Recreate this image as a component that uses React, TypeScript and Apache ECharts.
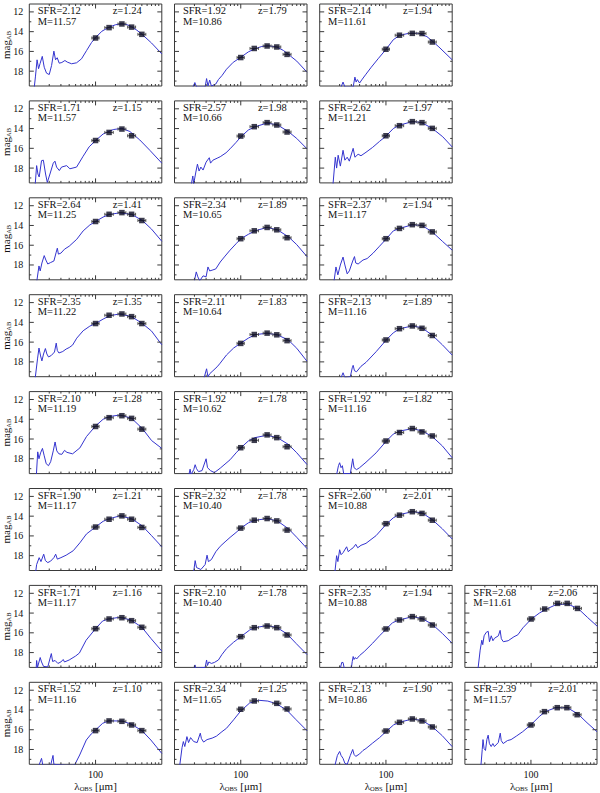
import React, { useEffect, useRef } from 'react';
import * as echarts from 'echarts';

// Herschel bands (observed wavelength, micron) and horizontal error-bar extents
const bandLambda = [100, 160, 250, 350, 500];
const bandLo = [88, 138, 218, 305, 436];
const bandHi = [113, 185, 287, 402, 574];

// axis ticks
const xMajorTicks = [100];
const xMinorTicks = [20, 30, 40, 50, 60, 70, 80, 90, 200, 300, 400, 500, 600, 700, 800, 900];
const yMajorTicks = [12, 14, 16, 18];
const yMinorTicks = [13, 15, 17, 19];

// panel layout (row, column)
const panelRow = [0, 0, 0, 1, 1, 1, 2, 2, 2, 3, 3, 3, 4, 4, 4, 5, 5, 5, 6, 6, 6, 6, 7, 7, 7, 7];
const panelCol = [0, 1, 2, 0, 1, 2, 0, 1, 2, 0, 1, 2, 0, 1, 2, 0, 1, 2, 0, 1, 2, 3, 0, 1, 2, 3];

const panelSFR = ['2.12', '1.92', '2.14', '1.71', '2.57', '2.62', '2.64', '2.34', '2.37', '2.35', '2.11', '2.13', '2.10', '1.92', '1.92', '1.90', '2.32', '2.60', '1.71', '2.10', '2.35', '2.68', '1.52', '2.34', '2.13', '2.39'];
const panelZ = ['1.24', '1.79', '1.94', '1.15', '1.98', '1.97', '1.41', '1.89', '1.94', '1.35', '1.83', '1.89', '1.28', '1.78', '1.82', '1.21', '1.78', '2.01', '1.16', '1.78', '1.94', '2.06', '1.10', '1.25', '1.90', '2.01'];
const panelM = ['11.57', '10.86', '11.61', '11.57', '10.66', '11.21', '11.25', '10.65', '11.17', '11.22', '10.64', '11.16', '11.19', '10.62', '11.16', '11.17', '10.40', '10.88', '11.17', '10.40', '10.88', '11.61', '11.16', '11.65', '10.86', '11.57'];

// observed magnitudes at bandLambda (null = not plotted)
const obsMags: (number | null)[][] = [
  [14.64, 13.59, 13.22, 13.54, 14.27],
  [16.62, 15.7, 15.45, 15.55, 16.3],
  [15.78, 14.36, 14.17, 14.19, 15.05],
  [15.21, 14.39, 14.05, 14.73, null],
  [14.76, 13.81, 13.4, 13.64, 14.35],
  [14.73, 13.71, 13.3, 13.4, 13.98],
  [13.6, 12.87, 12.7, 12.87, 13.5],
  [15.34, 14.54, 14.2, 14.44, 15.24],
  [15.34, 14.3, 13.92, 13.99, 14.65],
  [14.12, 13.28, 13.15, 13.42, 14.12],
  [16.13, 15.23, 15.09, 15.26, 15.85],
  [15.78, 14.64, 14.36, 14.6, 15.33],
  [14.73, 13.84, 13.64, 13.91, 15.0],
  [16.88, 16.13, 15.58, 15.86, 16.78],
  [16.2, 15.34, 14.94, 15.28, 15.69],
  [15.1, 14.31, 13.97, 14.31, 15.14],
  [15.21, 14.41, 14.24, 14.48, 15.41],
  [14.76, 13.9, 13.55, 13.72, 14.41],
  [15.58, 14.6, 14.47, 14.77, 15.44],
  [16.39, 15.48, 15.31, 15.48, 16.22],
  [15.61, 14.7, 14.36, 14.6, 15.21],
  [14.6, 13.59, 13.02, 13.02, 13.53],
  [16.09, 15.11, 15.15, 15.52, 16.09],
  [13.93, 13.09, null, 13.33, 13.9],
  [16.13, 15.25, 14.91, 15.11, 15.72],
  [15.52, 14.17, 13.77, 13.77, 14.48],
];

// best-fit SED curves [lambda_obs (micron), mag_AB]
const sed11 = [[11.9,19.6],[12.4,18.5],[13.1,16.85],[13.8,17.75],[14.5,17.25],[15.7,16.5],[16.8,17.6],[18.2,18.2],[20,18.34],[21.7,17.42],[23.5,15.97],[24.9,16.85],[26.4,16.64],[28.3,17.19],[31,17.12],[34.5,16.92],[37.4,17.08],[43.5,17.25],[51.7,17.15],[61.4,16.75],[73.4,15.9],[87,15.1],[100,14.6],[125,13.95],[160,13.55],[200,13.3],[250,13.2],[300,13.3],[350,13.5],[420,13.85],[500,14.25],[700,15.15],[1000,16.25]];
const sed12 = [[19,19.6],[20.3,19.15],[21.5,19.6],[29,19.6],[30.5,18.75],[32,19.5],[34,18.9],[36,19.5],[42,19.3],[46,18.85],[52,18.45],[61,17.8],[77,17.1],[100,16.6],[130,16.05],[165,15.72],[208,15.5],[262,15.43],[350,15.55],[440,15.9],[524,16.3],[700,16.98],[1000,18.1]];
const sed13 = [[21,19.6],[22.5,19.1],[24,19.6],[32,19.6],[34,18.6],[35.5,19.1],[37,18.85],[40,19.2],[44,18.8],[50,18.3],[60,17.6],[76,16.75],[100,15.8],[129,14.82],[160,14.38],[220,14.17],[310,14.17],[415,14.5],[500,14.95],[630,15.55],[1000,16.85]];
const sed21 = [[12.3,19.6],[12.9,17.75],[13.5,18.6],[14.1,18.9],[15.3,17.25],[16.3,17.2],[17.6,18.6],[18.7,19.45],[20.5,18.6],[23,17.5],[24.4,17.3],[25.8,17.9],[28.4,18.25],[30.7,17.9],[36.6,17.75],[41,18.07],[51.7,17.9],[65,16.8],[80,15.85],[100,15.22],[130,14.55],[185,14.1],[250,13.98],[330,14.3],[465,15.15],[660,16.2],[1000,17.5]];
const sed22 = [[18,19.6],[18.9,18.8],[19.5,19.6],[21,18.4],[22.2,17.6],[23.5,18.3],[25,17.9],[27,18.2],[30,17.4],[33.5,16.95],[35,17.5],[38,17.2],[44,17.0],[49,16.85],[60,16.45],[69,16.05],[85,15.4],[100,14.85],[130,14.15],[164,13.82],[248,13.45],[357,13.62],[525,14.32],[700,15.0],[1000,16.05]];
const sed23 = [[15.9,19.6],[17.2,16.9],[18,18.0],[19,16.7],[20.5,17.8],[22.5,16.2],[24,17.2],[26,16.9],[28,17.3],[32,16.0],[34,16.9],[38,16.6],[42,16.75],[50,16.4],[63,15.9],[80,15.3],[100,14.77],[129,14.0],[160,13.65],[250,13.3],[340,13.37],[500,13.98],[720,14.83],[1000,15.86]];
const sed31 = [[13,19.6],[14,18.1],[14.6,18.6],[15.5,17.8],[16.8,17.05],[17.8,17.5],[19,17.9],[21,17.75],[23.5,17.6],[25.5,16.7],[26.5,16.3],[27.5,16.9],[30,16.8],[34,16.4],[40,16.1],[52,15.4],[65,14.55],[82,13.95],[100,13.6],[130,13.15],[164,12.88],[232,12.72],[350,12.88],[510,13.5],[700,14.37],[1000,15.6]];
const sed32 = [[20,19.6],[21.3,18.7],[22.5,19.2],[24,19.6],[27,19.1],[30,19.2],[32,18.2],[34,18.6],[38,18.5],[42,18.4],[49,17.7],[58,17.1],[69,16.5],[85,15.85],[100,15.35],[130,14.9],[164,14.55],[248,14.2],[357,14.44],[525,15.15],[700,15.94],[1000,17.16]];
const sed33 = [[16.5,19.6],[17.6,18.2],[18.8,19.0],[20.5,18.0],[22.5,17.2],[24,18.0],[26,18.9],[28,18.6],[31.5,17.6],[33.5,17.15],[35,17.8],[38,17.9],[45,17.5],[52,17.35],[64,16.8],[80,16.1],[100,15.4],[129,14.55],[160,14.3],[250,13.93],[350,14.0],[500,14.65],[710,15.6],[1000,16.5]];
const sed41 = [[12.3,19.6],[13.3,17.7],[14,16.6],[14.8,17.4],[15.5,17.9],[16.4,17.2],[17.5,16.65],[18.4,17.2],[19.5,17.5],[21.5,17.35],[24,17.0],[25.5,16.1],[26.5,16.85],[28,17.1],[32,16.95],[36,16.7],[40,16.55],[45,16.3],[52,15.6],[65,14.85],[82,14.38],[100,14.12],[130,13.67],[164,13.32],[232,13.15],[350,13.42],[510,14.12],[700,14.88],[1000,16.27]];
const sed42 = [[28,19.6],[30.5,18.7],[32,19.5],[34,19.2],[38,18.9],[44,18.5],[48,18.2],[61,17.3],[78,16.6],[100,16.1],[130,15.6],[164,15.25],[248,15.1],[357,15.26],[525,15.8],[700,16.62],[1000,17.94]];
const sed43 = [[21,19.6],[22.5,19.1],[24,19.6],[29,19.5],[31,18.6],[32,18.35],[33.5,18.9],[36,19.0],[42,18.45],[50,18.05],[71,16.97],[100,15.82],[129,15.06],[160,14.65],[250,14.36],[350,14.55],[500,15.3],[710,16.27],[1000,17.31]];
const sed51 = [[12.8,19.6],[13.4,17.3],[14,18.0],[14.8,17.4],[15.8,16.95],[16.8,17.7],[18,18.5],[19.5,18.7],[21,18.3],[23,17.2],[24.5,16.3],[26,17.2],[28,17.5],[31,17.55],[34,17.15],[37,17.35],[45,17.5],[58,16.9],[73,15.75],[100,14.68],[130,14.0],[164,13.72],[232,13.57],[350,13.9],[510,14.95],[700,16.15],[1000,16.95]];
const sed52 = [[16.5,19.6],[17.2,19.05],[17.8,19.6],[19.5,19.1],[20.5,18.6],[21.5,19.0],[23,19.3],[26,19.2],[30,18.0],[31.5,18.9],[35,19.2],[40,19.4],[49,18.95],[69,18.1],[85,17.4],[100,16.9],[130,16.2],[164,15.86],[248,15.62],[357,15.86],[525,16.55],[700,17.39],[1000,18.58]];
const sed53 = [[18,19.6],[19.2,18.7],[20,18.4],[21,18.9],[22,18.7],[23,19.5],[29,19.5],[31.5,18.0],[33,18.9],[36,19.1],[40,18.9],[50,18.35],[71,17.4],[100,16.25],[129,15.5],[160,15.2],[250,14.95],[350,15.17],[500,15.75],[710,16.7],[1000,17.9]];
const sed61 = [[12.5,19.6],[12.9,18.9],[14.1,18.2],[15,18.6],[16.5,17.85],[17.5,18.5],[19,18.7],[21,18.55],[23.5,18.2],[25,17.85],[26.5,18.35],[30,18.2],[36,17.95],[46,17.5],[58,16.7],[73,15.8],[100,15.1],[130,14.52],[164,14.25],[232,13.97],[350,14.25],[510,15.0],[700,15.97],[1000,17.1]];
const sed62 = [[19.5,19.6],[20.5,18.5],[21.5,19.2],[25,19.4],[29,18.9],[31,17.95],[32.5,18.6],[36,18.4],[42,17.6],[49,17.05],[58,16.6],[69,16.15],[85,15.65],[100,15.22],[130,14.68],[164,14.42],[248,14.25],[357,14.48],[525,15.28],[700,16.14],[1000,17.28]];
const sed63 = [[17,19.6],[18,18.0],[18.8,18.6],[20,17.4],[21,17.9],[22.5,17.7],[25.5,17.1],[27,17.6],[29,17.4],[32,17.2],[35,16.85],[37.5,17.2],[42,16.95],[50,16.75],[71,15.97],[100,14.85],[129,14.17],[160,13.84],[250,13.55],[350,13.66],[500,14.35],[710,15.28],[1000,16.31]];
const sed71 = [[12.7,19.6],[12.9,18.8],[13.3,19.5],[14.6,18.5],[15.3,18.95],[16.4,19.4],[19,19.45],[21.5,18.1],[22.5,18.9],[24.5,18.8],[27,19.1],[30,18.95],[32.5,18.7],[34,18.95],[40,18.75],[50,18.35],[57,18.05],[72,16.75],[100,15.58],[128,14.8],[158,14.6],[229,14.43],[342,14.7],[501,15.44],[683,16.56],[1000,17.85]];
const sed72 = [[19.5,19.6],[20.4,19.25],[21,19.6],[29,19.5],[30.5,18.75],[31.5,19.3],[33,18.95],[36,19.1],[40,19.0],[46,18.75],[52,18.2],[61,17.6],[78,16.95],[100,16.4],[136,15.72],[162,15.48],[246,15.28],[350,15.45],[501,16.12],[683,17.07],[1000,18.2]];
const sed73 = [[20.5,19.6],[21.5,19.0],[22.5,19.0],[23.5,19.6],[30,19.6],[31,18.9],[32,18.4],[33,18.7],[34.5,18.5],[36,18.65],[40,18.3],[47,17.9],[63,17.05],[80,16.3],[100,15.65],[126,14.97],[160,14.7],[251,14.36],[355,14.57],[500,15.14],[707,16.05],[1000,17.06]];
const sed74 = [[15.8,19.6],[17,17.75],[18,16.75],[18.6,17.2],[19.5,16.3],[21,15.95],[22.5,15.85],[23.5,16.9],[25,16.3],[26.5,16.8],[28,16.55],[32,16.3],[34,15.75],[35.5,16.6],[38,16.9],[45,16.8],[55,16.4],[63,16.2],[75,15.5],[100,14.62],[133,14.0],[164,13.65],[237,13.15],[355,13.08],[513,13.55],[706,14.43],[1000,15.35]];
const sed81 = [[14,19.6],[15.3,18.9],[16,19.6],[21,19.6],[22.8,18.6],[23.5,19.5],[35,19.6],[48,19.6],[57.6,18.56],[72.5,17.04],[86,16.43],[100,16.03],[128,15.35],[160,15.1],[250,15.12],[342,15.42],[501,16.09],[683,17.04],[1000,18.4]];
const sed82 = [[12,19.6],[13,17.8],[13.6,17.2],[14.3,17.7],[15.4,16.7],[16.3,17.3],[17.5,16.8],[19.5,17.2],[22,17.3],[24.5,16.35],[25.5,16.9],[27.5,17.25],[31,17.0],[37,16.85],[43,16.65],[52,16.2],[61,15.85],[78,15.0],[100,14.1],[136,13.3],[186,13.02],[256,13.1],[350,13.38],[501,14.05],[683,14.98],[1000,16.1]];
const sed83 = [[17,19.6],[18.5,18.6],[20,18.2],[21,18.6],[22.5,18.9],[24,19.4],[26,19.5],[29,18.6],[31.5,18.0],[33,18.5],[35,18.7],[40,18.45],[45,18.1],[50,17.9],[63,17.35],[80,16.8],[100,16.2],[130,15.52],[160,15.25],[251,14.91],[355,15.08],[500,15.69],[707,16.6],[1000,17.71]];
const sed84 = [[17.5,19.6],[18.3,18.0],[18.8,17.0],[19.5,17.9],[20.5,18.1],[21.5,17.0],[22.5,16.55],[23.5,17.4],[25,17.7],[26.5,17.4],[28,17.7],[32,17.3],[34.3,16.35],[35.5,17.1],[38,17.4],[44,17.1],[50,17.0],[60,16.65],[75,16.2],[100,15.5],[133,14.68],[164,14.17],[237,13.77],[355,13.77],[513,14.4],[706,15.29],[1000,16.2]];

const sedCurves = [sed11, sed12, sed13, sed21, sed22, sed23, sed31, sed32, sed33, sed41, sed42, sed43, sed51, sed52, sed53, sed61, sed62, sed63, sed71, sed72, sed73, sed74, sed81, sed82, sed83, sed84];

// layout (pixels)
const GX0 = 29.3, GDX = 145.2, GW = 132.5;
const GY0 = 4, GDY = 96.9, GH = 82;
const FONT = 'Liberation Serif';
const FRAME = '#3a3a3a';

export default function App() {
  const ref = useRef<HTMLDivElement>(null);
  useEffect(() => {
    if (!ref.current) return;
    const chart = echarts.init(ref.current, null, { renderer: 'svg' });
    const grids: any[] = [];
    const xAxes: any[] = [];
    const yAxes: any[] = [];
    const series: any[] = [];
    const graphics: any[] = [];

    const tickData: number[][] = [];
    xMajorTicks.forEach((v) => tickData.push([v, 15, 0]));
    xMinorTicks.forEach((v) => tickData.push([v, 15, 1]));
    yMajorTicks.forEach((v) => tickData.push([100, v, 2]));
    yMinorTicks.forEach((v) => tickData.push([100, v, 3]));

    sedCurves.forEach((curve, k) => {
      const r = panelRow[k];
      const c = panelCol[k];
      const left = GX0 + GDX * c;
      const top = GY0 + GDY * r;
      grids.push({ left, top, width: GW, height: GH, show: true, borderColor: FRAME, borderWidth: 1, backgroundColor: 'transparent' });
      xAxes.push({
        type: 'log', logBase: 10, min: 10, max: 1000, gridIndex: k,
        axisLine: { show: false }, axisTick: { show: false }, splitLine: { show: false }, minorTick: { show: false },
        axisLabel: {
          show: r === 7, margin: 5, color: '#111', fontFamily: FONT, fontSize: 10,
          formatter: (v: number) => (Math.abs(v - 100) < 0.01 ? '100' : ''),
        },
      });
      yAxes.push({
        type: 'value', inverse: true, min: 11.2, max: 19.5, splitNumber: 4, gridIndex: k,
        axisLine: { show: false }, axisTick: { show: false }, splitLine: { show: false },
        axisLabel: {
          show: c === 0, margin: 6, color: '#111', fontFamily: FONT, fontSize: 10,
          showMinLabel: false, showMaxLabel: false,
          formatter: (v: number) => {
            const rr = Math.round(v);
            return Math.abs(v - rr) < 1e-6 && rr % 2 === 0 ? String(rr) : '';
          },
        },
      });
      series.push({
        type: 'line', xAxisIndex: k, yAxisIndex: k, data: curve, showSymbol: false, symbol: 'none',
        lineStyle: { color: '#3434cf', width: 1 }, clip: true, z: 2, silent: true,
      });
      const errData: number[][] = [];
      const ptData: number[][] = [];
      obsMags[k].forEach((m, b) => {
        if (m == null) return;
        errData.push([bandLambda[b], m, bandLo[b], bandHi[b]]);
        ptData.push([bandLambda[b], m]);
      });
      series.push({
        type: 'custom', xAxisIndex: k, yAxisIndex: k, data: errData, z: 3, silent: true,
        renderItem: (params: any, api: any) => {
          const m = api.value(1);
          const p = api.coord([api.value(0), m]);
          const x1 = api.coord([api.value(2), m])[0];
          const x2 = api.coord([api.value(3), m])[0];
          const st = { stroke: '#444', lineWidth: 0.9 };
          return {
            type: 'group',
            children: [
              { type: 'line', shape: { x1, y1: p[1], x2, y2: p[1] }, style: st },
              { type: 'line', shape: { x1, y1: p[1] - 1.5, x2: x1, y2: p[1] + 1.5 }, style: st },
              { type: 'line', shape: { x1: x2, y1: p[1] - 1.5, x2, y2: p[1] + 1.5 }, style: st },
            ],
          };
        },
      });
      series.push({
        type: 'scatter', xAxisIndex: k, yAxisIndex: k, data: ptData, symbol: 'rect', symbolSize: 5.5,
        itemStyle: { color: '#0c0c22' }, z: 4, silent: true,
      });
      series.push({
        type: 'custom', xAxisIndex: k, yAxisIndex: k, data: tickData, z: 5, silent: true,
        renderItem: (params: any, api: any) => {
          const cs = params.coordSys;
          const kind = api.value(2);
          const st = { stroke: FRAME, lineWidth: 1 };
          if (kind < 2) {
            const px = api.coord([api.value(0), 15])[0];
            const len = kind === 0 ? 4.5 : 2;
            return {
              type: 'group',
              children: [
                { type: 'line', shape: { x1: px, y1: cs.y + cs.height, x2: px, y2: cs.y + cs.height - len }, style: st },
                { type: 'line', shape: { x1: px, y1: cs.y, x2: px, y2: cs.y + len }, style: st },
              ],
            };
          }
          const py = api.coord([100, api.value(1)])[1];
          const len = kind === 2 ? 4.5 : 2;
          return {
            type: 'group',
            children: [
              { type: 'line', shape: { x1: cs.x, y1: py, x2: cs.x + len, y2: py }, style: st },
              { type: 'line', shape: { x1: cs.x + cs.width, y1: py, x2: cs.x + cs.width - len, y2: py }, style: st },
            ],
          };
        },
      });

      const txt = (text: string, x: number, y: number) => ({
        type: 'text', x, y, silent: true, z: 10,
        style: {
          text, fill: '#111', fontFamily: FONT, fontSize: 10.5, lineHeight: 10,
          textAlign: 'left', textVerticalAlign: 'middle', align: 'left', verticalAlign: 'middle',
        },
      });
      graphics.push(txt('SFR=' + panelSFR[k], left + 8.4, top + 6.6));
      graphics.push(txt('z=' + panelZ[k], left + 83.4, top + 6.6));
      graphics.push(txt('M=' + panelM[k], left + 8.4, top + 17));

      if (c === 0) {
        graphics.push({
          type: 'text', x: 6, y: top + GH / 2, rotation: Math.PI / 2, silent: true,
          style: {
            text: '{a|mag}{b|AB}', fill: '#111', textAlign: 'center', textVerticalAlign: 'middle', align: 'center', verticalAlign: 'middle',
            rich: {
              a: { fontFamily: FONT, fontSize: 11, lineHeight: 12 },
              b: { fontFamily: FONT, fontSize: 6.5, lineHeight: 12, verticalAlign: 'bottom', padding: [4, 0, 0, 0] },
            },
          },
        });
      }
      if (r === 7) {
        graphics.push({
          type: 'text', x: left + GW / 2, y: 786, silent: true,
          style: {
            text: '{a|\u03bb}{b|OBS}{a| [\u03bcm]}', fill: '#111', textAlign: 'center', textVerticalAlign: 'middle', align: 'center', verticalAlign: 'middle',
            rich: {
              a: { fontFamily: FONT, fontSize: 11, lineHeight: 12 },
              b: { fontFamily: FONT, fontSize: 6.5, lineHeight: 12, verticalAlign: 'bottom', padding: [4, 0, 0, 0] },
            },
          },
        });
      }
    });

    chart.setOption({
      animation: false,
      backgroundColor: '#ffffff',
      grid: grids,
      xAxis: xAxes,
      yAxis: yAxes,
      series,
      graphic: { elements: graphics },
    });
    return () => chart.dispose();
  }, []);
  return <div ref={ref} style={{ position: 'absolute', left: 0, top: 0, width: 600, height: 793, background: '#fff' }} />;
}
